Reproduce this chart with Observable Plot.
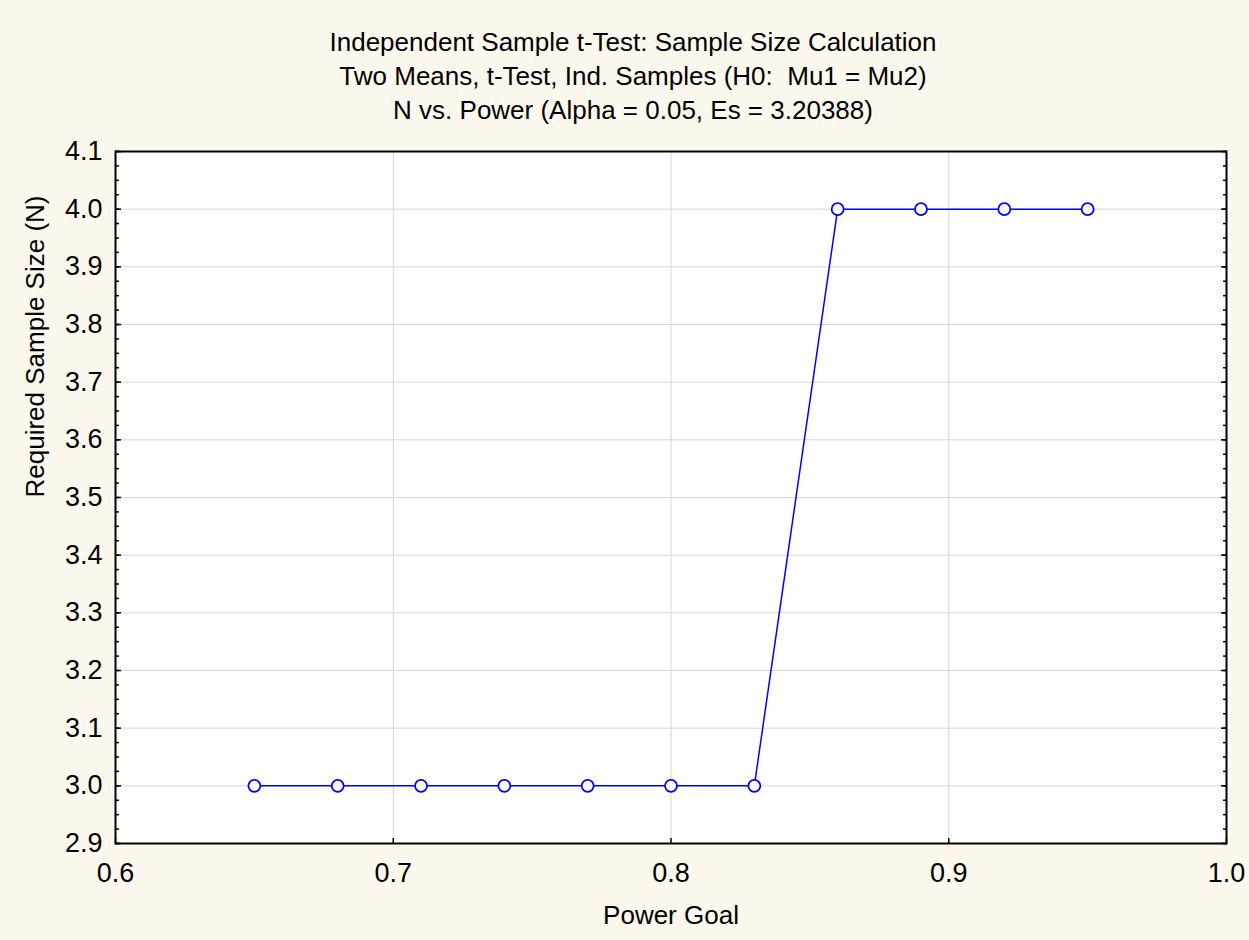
<!DOCTYPE html>
<html>
<head>
<meta charset="utf-8">
<script src="https://cdn.jsdelivr.net/npm/d3@7"></script>
<script src="https://cdn.jsdelivr.net/npm/@observablehq/plot@0.6"></script>
<style>
  html, body { margin: 0; padding: 0; background: #fdf8ee; }
  #chart svg { display: block; }
</style>
</head>
<body>
<div id="chart"></div>
<script>
const powerGoal = [0.65, 0.68, 0.71, 0.74, 0.77, 0.80, 0.83, 0.86, 0.89, 0.92, 0.95];
const sampleSize = [3, 3, 3, 3, 3, 3, 3, 4, 4, 4, 4];
const xTicks = [0.6, 0.7, 0.8, 0.9, 1.0];
const yTicks = [2.9, 3.0, 3.1, 3.2, 3.3, 3.4, 3.5, 3.6, 3.7, 3.8, 3.9, 4.0, 4.1];
const yMinorTicks = d3.range(0, 49).map(i => 2.9 + i * 0.025);
const titleLines = [
  "Independent Sample t-Test: Sample Size Calculation",
  "Two Means, t-Test, Ind. Samples (H0:  Mu1 = Mu2)",
  "N vs. Power (Alpha = 0.05, Es = 3.20388)"
];
const xLabel = "Power Goal";
const yLabel = "Required Sample Size (N)";

const data = powerGoal.map((x, i) => ({x, y: sampleSize[i]}));
const FS = 26;
const TFS = 27;
const font = "Liberation Sans, Arial, sans-serif";

const chart = Plot.plot({
  width: 1249,
  height: 940,
  marginLeft: 115,
  marginRight: 23,
  marginTop: 151,
  marginBottom: 97,
  style: {background: "#fdf8ee", fontFamily: font, fontSize: TFS + "px", color: "#000"},
  x: {domain: [0.6, 1.0]},
  y: {domain: [2.9, 4.1]},
  marks: [
    Plot.frame({fill: "white", stroke: null}),
    Plot.gridX(xTicks.slice(1, -1), {stroke: "#d6d6d6", strokeOpacity: 1, strokeWidth: 1}),
    Plot.gridY(yTicks.slice(1, -1), {stroke: "#d6d6d6", strokeOpacity: 1, strokeWidth: 1}),
    Plot.axisY(yMinorTicks, {anchor: "left", tickSize: -4, text: null, label: null, strokeWidth: 1.5}),
    Plot.axisY(yMinorTicks, {anchor: "right", tickSize: -4, text: null, label: null, strokeWidth: 1.5}),
    Plot.axisY(yTicks, {anchor: "left", tickSize: -6, text: null, label: null, strokeWidth: 1.5}),
    Plot.axisY(yTicks, {anchor: "right", tickSize: -6, text: null, label: null, strokeWidth: 1.5}),
    Plot.axisX(xTicks, {anchor: "bottom", tickSize: -5, text: null, label: null, strokeWidth: 1.5}),
    Plot.axisY(yTicks, {anchor: "left", tickSize: 0, tickPadding: 13, tickFormat: d3.format(".1f"), label: null, fontSize: TFS}),
    Plot.axisX(xTicks, {anchor: "bottom", tickSize: 0, tickPadding: 19, tickFormat: d3.format(".1f"), label: null, fontSize: TFS}),
    Plot.frame({stroke: "#000", strokeWidth: 2}),
    Plot.line(data, {x: "x", y: "y", stroke: "#0000ff", strokeWidth: 1.5}),
    Plot.dot(data, {x: "x", y: "y", r: 6, stroke: "#0000ff", fill: "white", strokeWidth: 1.8}),
    ...titleLines.map((t, i) => Plot.text([t], {text: d => d, frameAnchor: "top", lineAnchor: "middle", dx: -38, dy: -109 + i * 34, fontSize: FS, fill: "#000"})),
    Plot.text([xLabel], {text: d => d, frameAnchor: "bottom", lineAnchor: "middle", dy: 72, fontSize: FS, fill: "#000"}),
    Plot.text([yLabel], {text: d => d, frameAnchor: "left", lineAnchor: "middle", dx: -80, rotate: -90, fontSize: FS, fill: "#000"})
  ]
});
document.getElementById("chart").appendChild(chart);
</script>
</body>
</html>
